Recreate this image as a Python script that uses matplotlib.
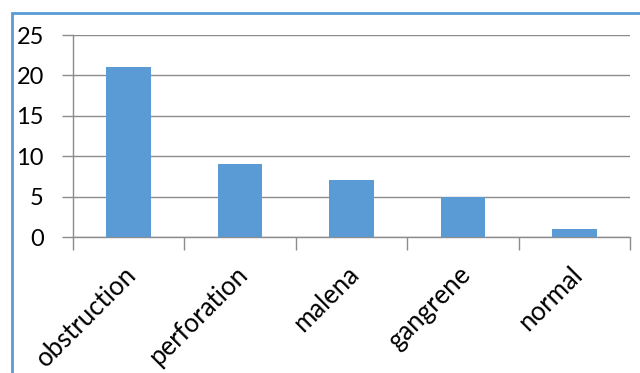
import matplotlib
matplotlib.use("Agg")
import matplotlib.pyplot as plt
from matplotlib.patches import Rectangle
from matplotlib.transforms import ScaledTranslation

categories = ["obstruction", "perforation", "malena", "gangrene", "normal"]
values = [21, 9, 7, 5, 1]
yticks = [0, 5, 10, 15, 20, 25]

plt.rcParams['font.family'] = ['Lato', 'DejaVu Sans']

W, H = 640, 373
fig = plt.figure(figsize=(W/100, H/100), dpi=100)
ax = fig.add_axes([73/W, 1-237/H, (630-73)/W, (237-35)/H])

x = list(range(len(categories)))
ax.bar(x, values, width=0.4, color="#5B9BD5", zorder=3)
ax.set_xlim(-0.5, len(categories)-0.5)
ax.set_ylim(0, 25)
ax.set_yticks(yticks)
ax.set_yticklabels([str(v) for v in yticks], fontsize=17)
ax.yaxis.grid(True, color="#8c8c8c", linewidth=1, zorder=0)
ax.tick_params(axis='y', length=8, color="#8c8c8c", width=1, pad=13)

ax.set_xticks([i - 0.5 for i in range(len(categories)+1)])
ax.set_xticklabels([])
ax.tick_params(axis='x', length=9, color="#8c8c8c", width=1)
ax.set_xticks(x, minor=True)
ax.set_xticklabels(categories, minor=True, rotation=45, ha='right',
                   rotation_mode='anchor', fontsize=18.5)
ax.tick_params(axis='x', which='minor', length=0, pad=18)
off = ScaledTranslation(-5/100, 0, fig.dpi_scale_trans)
for lbl in ax.get_xticklabels(minor=True):
    lbl.set_transform(lbl.get_transform() + off)

for s in ['top', 'right']:
    ax.spines[s].set_visible(False)
for s in ['left', 'bottom']:
    ax.spines[s].set_color("#8c8c8c")
    ax.spines[s].set_linewidth(1)

fig.patches.append(Rectangle((12/W, -0.1), 1.2, 1-13/H+0.1, transform=fig.transFigure,
                             fill=False, edgecolor="#5B9BD5", linewidth=2))

fig.savefig("out.png", dpi=100)
